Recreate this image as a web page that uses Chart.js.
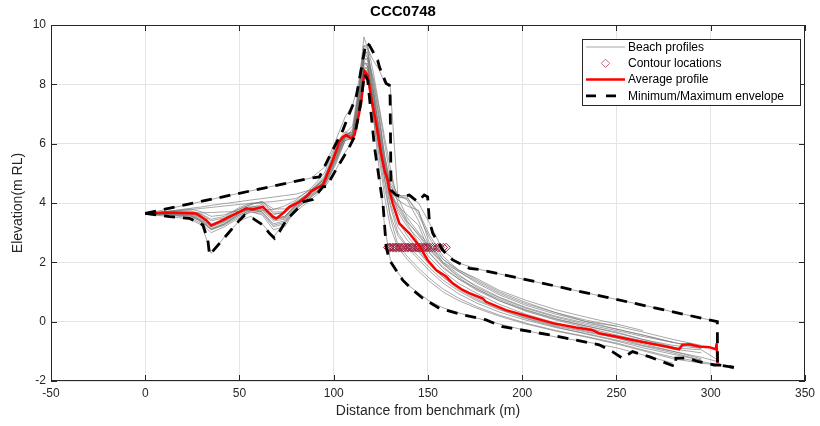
<!DOCTYPE html>
<html>
<head>
<meta charset="utf-8">
<script src="https://cdn.jsdelivr.net/npm/chart.js@4/dist/chart.umd.min.js"></script>
<style>
html,body{margin:0;padding:0;background:#fff;}
#wrap{width:820px;height:426px;position:relative;}
</style>
</head>
<body>
<div id="wrap"><canvas id="c"></canvas></div>
<script>
// ---------- data ----------
const chartTitle = 'CCC0748';
const xTicks = [-50, 0, 50, 100, 150, 200, 250, 300, 350];
const yTicks = [-2, 0, 2, 4, 6, 8, 10];

// chainage grid shared by the individual beach profiles (m)
const profileX = [0,12,24,30,35,42,50,56,62,68,74,80,88,95,101,106,110,113,116,118,121,124,127,130,134,139,145,151,158,166,176,188,202,218,234,250,264,280,295,304];

const prof01 = [3.63,3.8,3.97,4.05,4.12,4.22,4.33,4.41,4.49,4.57,4.65,4.74,4.84,5.2,6.1, 6.9,7.3,8.0,9.3,9.2,8.8,8.5,8.05,7.9,4.25,4.25,4.0,3.3,2.4,1.98,1.78,1.61,1.41,1.19,0.97,0.75,0.56,0.33,0.12,0.0];
const prof02 = [3.62,3.55,3.45,3.25,2.3,2.85,3.4,3.55,3.3,2.85,3.35,3.72,4.12,4.5,5.1, 5.7,6.1,6.9,8.35,8.2,6.9,5.2,3.2,2.1,1.65,1.25,0.97,0.68,0.47,0.3,0.12,-0.08,-0.3,-0.52,-0.68,-0.88,-1.12,-1.4,null,null];
const prof03 = [3.63,3.64,3.62,3.4,3.15,3.3,3.65,3.85,3.95,3.45,3.55,3.95,4.35,4.75,5.6, 6.3,6.4,7.3,8.9,8.8,7.2,6.2,5.1,4.2,3.4,2.9,2.4,1.95,1.5,1.1,0.75,0.42,0.12,-0.15,-0.35,-0.55,-0.75,-1.0,-1.25,null];
const prof04 = [3.62,3.66,3.68,3.55,3.3,3.42,3.75,3.9,3.85,3.6,3.7,4.0,4.4,4.85,5.9, 6.25,6.2,7.5,9.0,8.9,7.8,6.8,5.5,4.4,4.1,3.9,3.75,2.6,2.0,1.6,1.15,0.8,0.45,0.15,-0.1,-0.3,-0.5,-0.7,-0.85,null];
const prof05 = [3.62,3.7,3.78,3.82,3.85,3.9,3.95,3.98,4.02,4.05,4.1,4.15,4.45,4.9,5.7, 6.2,6.5,7.6,8.8,8.6,7.5,6.6,5.4,4.5,3.7,3.2,2.8,2.3,1.85,1.45,1.05,0.7,0.38,0.08,-0.15,-0.35,-0.6,-0.85,null,null];
const prof06 = [3.63,3.65,3.66,3.67,3.68,3.7,3.72,3.74,3.76,3.78,3.9,4.1,4.5,5.0,6.0, 6.4,6.3,7.2,8.6,8.5,7.4,5.8,4.5,3.6,2.9,2.5,2.1,1.7,1.3,0.95,0.62,0.32,0.05,-0.2,-0.4,-0.62,-0.82,-1.05,-1.3,null];
const prof07 = [3.62,3.63,3.6,3.35,3.1,3.3,3.6,3.75,3.7,3.25,3.35,3.85,4.25,4.6,5.4, 6.2,6.3,7.0,8.5,8.6,7.6,6.4,5.2,4.3,3.9,3.6,3.25,2.3,1.8,1.45,1.1,0.7,0.35,0.05,-0.2,-0.45,-0.65,-0.88,-0.95,-1.3];
const prof08 = [3.63,3.67,3.66,3.5,3.25,3.4,3.7,3.8,3.9,3.5,3.5,3.9,4.3,4.7,5.5, 6.3,6.25,7.4,9.2,9.0,8.2,7.2,6.0,4.9,4.2,3.5,3.0,2.55,2.1,1.7,1.3,0.9,0.55,0.25,0.0,-0.15,null,null,null,null];
const prof09 = [3.62,3.72,3.8,3.7,3.55,3.6,3.8,3.95,4.05,3.8,3.8,4.05,4.4,4.8,5.7, 6.3,6.35,7.7,9.6,9.2,7.8,6.5,5.4,4.6,4.2,4.2,3.6,2.8,2.1,1.75,1.4,1.0,0.65,0.3,0.05,-0.15,-0.35,-0.6,-0.8,null];
const prof10 = [3.62,3.6,3.5,3.3,3.0,3.2,3.5,3.7,3.6,3.1,3.2,3.8,4.2,4.55,5.3, 6.1,6.2,6.9,8.2,8.3,7.8,6.4,4.8,3.5,2.6,2.2,1.8,1.45,1.1,0.8,0.5,0.22,-0.05,-0.3,-0.5,-0.72,-0.95,-1.2,-1.35,-1.45];
const prof11 = [3.62,3.72,3.82,3.87,3.92,3.98,4.05,4.1,4.15,4.2,4.25,4.3,4.45,4.8,5.8, 6.35,6.6,7.8,9.0,9.1,8.0,6.9,5.6,4.7,4.3,4.1,3.4,2.5,2.0,1.7,1.35,0.95,0.6,0.3,0.0,-0.25,-0.45,-0.7,null,null];
const prof12 = [3.63,3.68,3.72,3.6,3.4,3.5,3.8,3.95,4.05,3.7,3.7,4.0,4.35,4.75,5.6, 6.25,6.3,7.3,8.7,8.7,7.4,6.3,5.1,4.3,3.8,3.3,2.65,2.15,1.7,1.3,0.95,0.58,0.25,-0.05,-0.28,-0.5,-0.7,-0.92,-1.05,null];
const prof13 = [3.62,3.62,3.58,3.42,3.2,3.35,3.65,3.8,3.75,3.4,3.45,3.9,4.3,4.65,5.5, 6.2,6.25,7.1,8.8,8.9,7.6,6.5,5.3,4.4,3.9,3.35,2.95,2.45,1.95,1.5,1.1,0.75,0.4,0.1,-0.15,-0.38,-0.6,-0.8,-0.9,null];
const prof14 = [3.62,3.64,3.65,3.5,3.25,3.4,3.7,3.85,3.8,3.45,3.5,3.95,4.35,4.7,5.6, 6.3,6.3,7.4,9.1,8.9,8.1,7.0,5.6,4.6,4.2,4.15,3.7,2.9,2.2,1.75,1.45,1.05,0.72,0.4,0.15,-0.08,-0.3,null,null,null];
const prof15 = [3.62,3.6,3.55,3.38,3.1,3.25,3.55,3.7,3.65,3.2,3.3,3.8,4.2,4.55,5.35, 6.1,6.2,6.8,8.4,8.5,6.9,5.6,4.2,3.2,2.5,2.1,1.7,1.35,1.0,0.72,0.45,0.18,-0.08,-0.32,-0.52,-0.75,-0.98,-1.25,-1.4,-1.46];
const prof16 = [3.63,3.66,3.64,3.45,3.22,3.38,3.68,3.82,3.8,3.5,3.55,3.95,4.35,4.7,5.5, 6.25,6.3,7.2,8.7,8.6,7.2,6.3,5.0,4.0,3.2,2.75,2.35,1.9,1.5,1.15,0.8,0.48,0.15,-0.12,-0.32,-0.55,-0.8,-1.0,-1.2,-1.35];
const prof17 = [3.63,3.7,3.74,3.62,3.45,3.55,3.85,4.0,4.0,3.65,3.65,4.0,4.4,4.8,5.65, 6.3,6.4,7.6,9.3,9.3,8.4,7.3,6.2,5.2,4.0,3.4,2.9,2.4,1.95,1.55,1.2,0.82,0.48,0.18,-0.05,-0.25,-0.45,-0.7,-0.9,null];
const prof18 = [3.62,3.62,3.56,3.36,3.12,3.28,3.6,3.75,3.7,3.3,3.4,3.85,4.25,4.6,5.45, 6.15,6.25,7.0,8.5,8.4,7.0,5.9,4.8,3.9,3.0,2.55,2.2,1.8,1.4,1.05,0.7,0.4,0.1,-0.18,-0.42,-0.65,-0.88,-1.1,-1.3,null];

// contour (2.5 m RL) crossing locations
const contourX = [128.6,129.5,130.1,131.2,131.9,132.8,133.3,134.4,135.1,135.9,136.8,137.2,138.3,139.1,139.7,140.8,141.5,142.1,143.2,144.0,144.7,145.6,146.3,147.4,148.1,149.0,149.8,151.1,152.3,153.6,155.2,156.4,158.1,159.6];
const contourY = [2.5,2.5,2.5,2.5,2.5,2.5,2.5,2.5,2.5,2.5,2.5,2.5,2.5,2.5,2.5,2.5,2.5,2.5,2.5,2.5,2.5,2.5,2.5,2.5,2.5,2.5,2.5,2.5,2.5,2.5,2.5,2.5,2.5,2.5];

// average profile
const averageX = [0,11,27,32.4,35,39.4,44.7,50,53.6,57,62.4,64.2,67.7,69.5,73,76.5,81.8,85.4,88,90.7,94.2,96,99.5,103,104.8,106.6,109.2,111,112.7,114.5,116.3,118,119.8,122.5,125.1,126.9,128.6,129.5,131.3,134.8,140.1,145.4,149.8,154.3,159.6,163.1,168.4,171.9,178.9,180.8,191.4,203.7,216.1,228.5,237,240.8,249.7,258.5,267.3,276.2,283.2,285,288.6,293.9,299.2,302.7,303.1,303.6];
const averageY = [3.65,3.68,3.65,3.42,3.24,3.37,3.54,3.7,3.82,3.78,3.87,3.76,3.54,3.48,3.65,3.87,4.04,4.21,4.4,4.49,4.6,4.88,5.44,6.06,6.23,6.29,6.17,6.29,6.79,7.35,8.45,8.3,7.58,6.68,5.67,5.11,4.77,4.43,3.99,3.31,2.98,2.55,2.08,1.74,1.52,1.29,1.07,0.96,0.79,0.67,0.39,0.17,-0.05,-0.2,-0.28,-0.39,-0.5,-0.62,-0.73,-0.84,-0.93,-0.78,-0.76,-0.84,-0.86,-0.93,-0.73,-1.4];

// maximum envelope
const maxEnvX = [0,87,92.4,97.7,104.8,108.3,112,115.4,117.2,118.9,123.3,124.2,127.8,129.5,129.9,130.4,133,136.6,140.1,144.5,148,149.8,150.7,152.5,157.8,163.1,171.9,177.2,245,303.5,303.6,312.3];
const maxEnvY = [3.65,4.83,4.88,5.56,6.45,7.02,7.6,8.81,9.4,9.32,8.81,8.59,8.03,7.97,7.58,4.43,4.27,4.21,4.27,4.04,4.27,4.21,3.42,2.98,2.41,2.08,1.8,1.76,0.82,0.0,-1.46,-1.54];

// minimum envelope
const minEnvX = [0,12.9,23.5,30.6,33.2,34.1,39.4,44.7,50,52.7,57.1,62.4,65.9,68.6,71.2,74.8,80.1,83.6,88.9,94.2,96,102.1,107.4,111,112.7,114.5,116.3,118,119.8,121.6,124.2,126.2,126.9,127.8,129.5,133,136.6,141.9,147.2,156,168.4,180.8,189.6,215,240.8,247.8,253.1,258.5,267.3,281.4,281.5,287.6,293.8,301.8,304.4,312.3];
const minEnvY = [3.65,3.54,3.48,3.26,2.75,2.25,2.64,3.03,3.42,3.59,3.48,3.26,2.98,2.81,3.03,3.42,3.76,4.04,4.12,4.55,4.55,5.22,5.78,6.23,6.79,7.46,8.35,8.14,7.02,5.89,4.77,3.9,3.31,2.53,2.08,1.74,1.4,1.07,0.79,0.45,0.23,0.06,-0.17,-0.45,-0.78,-1.01,-1.23,-1.01,-1.18,-1.52,-1.23,-1.23,-1.35,-1.46,-1.46,-1.54];

// ---------- build datasets ----------
const profiles = [prof01,prof02,prof03,prof04,prof05,prof06,prof07,prof08,prof09,prof10,prof11,prof12,prof13,prof14,prof15,prof16,prof17,prof18];
const pairs = (xs, ys) => xs.map((x, i) => ({x: x, y: ys[i]})).filter(p => p.y !== null && p.y !== undefined);

const GRAY = 'rgba(118,118,118,0.8)';
const RED = '#ff0000';
const MARK = '#9e1f3d';
const BLACK = '#000000';

const datasets = [];
datasets.push({label:'Minimum/Maximum envelope', legendKey:'env', data: pairs(maxEnvX, maxEnvY), showLine:true, borderColor:BLACK, borderWidth:2.8, borderDash:[11,8], pointRadius:0, fill:false, tension:0, order:0});
datasets.push({label:'_env2', data: pairs(minEnvX, minEnvY), showLine:true, borderColor:BLACK, borderWidth:2.8, borderDash:[11,8], pointRadius:0, fill:false, tension:0, order:0});
datasets.push({label:'Average profile', legendKey:'avg', data: pairs(averageX, averageY), showLine:true, borderColor:RED, borderWidth:2.5, pointRadius:0, fill:false, tension:0, order:1});
datasets.push({label:'Contour locations', legendKey:'ctr', data: pairs(contourX, contourY), showLine:false, pointStyle:'rectRot', pointRadius:4.2, pointBorderWidth:1, pointBorderColor:MARK, pointBackgroundColor:'rgba(0,0,0,0)', order:2});
profiles.forEach((ys, i) => {
  datasets.push({label: i === 0 ? 'Beach profiles' : '_p' + i, legendKey: i === 0 ? 'prof' : undefined, data: pairs(profileX, ys), showLine:true, borderColor:GRAY, borderWidth:0.8, pointRadius:0, fill:false, tension:0, order:3});
});

const FONT = "'Liberation Sans', Arial, Helvetica, sans-serif";
const AXIS = '#262626';

const framePlugin = {
  id: 'frame',
  afterDraw(chart) {
    const ctx = chart.ctx, a = chart.chartArea, sx = chart.scales.x, sy = chart.scales.y;
    ctx.save();
    ctx.strokeStyle = AXIS; ctx.lineWidth = 1;
    ctx.strokeRect(Math.round(a.left) + 0.5, Math.round(a.top) + 0.5, Math.round(a.right - a.left) - 1, Math.round(a.bottom - a.top) - 1);
    const tl = 6;
    ctx.beginPath();
    xTicks.forEach(v => {
      const px = Math.round(sx.getPixelForValue(v)) + 0.5;
      ctx.moveTo(px, a.bottom); ctx.lineTo(px, a.bottom - tl);
      ctx.moveTo(px, a.top); ctx.lineTo(px, a.top + tl);
    });
    yTicks.forEach(v => {
      const py = Math.round(sy.getPixelForValue(v)) + 0.5;
      ctx.moveTo(a.left, py); ctx.lineTo(a.left + tl, py);
      ctx.moveTo(a.right, py); ctx.lineTo(a.right - tl, py);
    });
    ctx.stroke();

    // legend box (northeast)
    const L = {x: 582, y: 39, w: 218, h: 66};
    ctx.fillStyle = '#ffffff';
    ctx.fillRect(L.x, L.y, L.w, L.h);
    ctx.strokeStyle = AXIS; ctx.lineWidth = 1;
    ctx.strokeRect(L.x + 0.5, L.y + 0.5, L.w, L.h);
    const order = ['prof', 'ctr', 'avg', 'env'];
    const rowY = [47, 63.3, 79.6, 95.9];
    const x0 = 586, x1 = 625, tx = 628;
    ctx.font = '12px ' + FONT;
    ctx.textBaseline = 'middle';
    ctx.textAlign = 'left';
    order.forEach((key, r) => {
      const ds = chart.data.datasets.find(d => d.legendKey === key);
      const y = rowY[r];
      ctx.save();
      if (key === 'prof') {
        ctx.strokeStyle = GRAY; ctx.lineWidth = 0.8;
        ctx.beginPath(); ctx.moveTo(x0, y); ctx.lineTo(x1, y); ctx.stroke();
      } else if (key === 'ctr') {
        const cx = (x0 + x1) / 2, s = 4.2;
        ctx.strokeStyle = '#c4607a'; ctx.lineWidth = 0.9;
        ctx.beginPath(); ctx.moveTo(cx, y - s); ctx.lineTo(cx + s, y); ctx.lineTo(cx, y + s); ctx.lineTo(cx - s, y); ctx.closePath(); ctx.stroke();
      } else if (key === 'avg') {
        ctx.strokeStyle = RED; ctx.lineWidth = 2.5;
        ctx.beginPath(); ctx.moveTo(x0, y); ctx.lineTo(x1, y); ctx.stroke();
      } else {
        ctx.strokeStyle = BLACK; ctx.lineWidth = 2.8; ctx.setLineDash([10, 10]);
        ctx.beginPath(); ctx.moveTo(x0, y); ctx.lineTo(x1, y); ctx.stroke();
      }
      ctx.restore();
      ctx.fillStyle = '#000';
      ctx.fillText(ds.label, tx, y + 0.5);
    });
    ctx.restore();
  }
};

new Chart(document.getElementById('c'), {
  type: 'scatter',
  data: { datasets: datasets },
  options: {
    responsive: true,
    maintainAspectRatio: false,
    animation: false,
    devicePixelRatio: 1,
    layout: { padding: { left: 0, right: 14, top: 0, bottom: 0 } },
    plugins: {
      legend: { display: false },
      tooltip: { enabled: false },
      title: {
        display: true, text: chartTitle, color: '#000',
        font: { family: FONT, size: 15, weight: 'bold' },
        padding: { top: 3, bottom: 4 }
      }
    },
    scales: {
      x: {
        type: 'linear', min: -50, max: 350,
        afterBuildTicks: s => { s.ticks = xTicks.map(v => ({ value: v })); },
        afterFit: s => { s.height = 45; },
        grid: { color: '#e4e4e4', lineWidth: 1, drawTicks: false },
        border: { display: false },
        ticks: { color: AXIS, font: { family: FONT, size: 12 }, padding: 5, maxRotation: 0, autoSkip: false },
        title: { display: true, text: 'Distance from benchmark (m)', color: AXIS, font: { family: FONT, size: 14 }, padding: { top: 0, bottom: 6.6 } }
      },
      y: {
        type: 'linear', min: -2, max: 10,
        afterBuildTicks: s => { s.ticks = yTicks.map(v => ({ value: v })); },
        afterFit: s => { s.width = 51; },
        grid: { color: '#e4e4e4', lineWidth: 1, drawTicks: false },
        border: { display: false },
        ticks: { color: AXIS, font: { family: FONT, size: 12 }, padding: 5, autoSkip: false },
        title: { display: true, text: 'Elevation(m RL)', color: AXIS, font: { family: FONT, size: 14 }, padding: { top: 9.6, bottom: 0 } }
      }
    }
  },
  plugins: [framePlugin]
});
</script>
</body>
</html>
